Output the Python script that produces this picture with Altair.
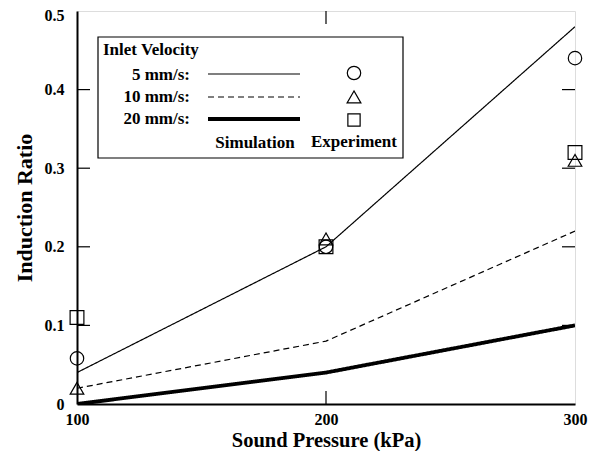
import altair as alt
import pandas as pd

# ---- data ----
pressure = [100, 200, 300]
sim_5 = [0.04, 0.20, 0.48]
sim_10 = [0.02, 0.08, 0.22]
sim_20 = [0.0, 0.04, 0.10]
exp_5 = [0.058, 0.20, 0.44]
exp_10 = [0.02, 0.21, 0.31]
exp_20 = [0.11, 0.20, 0.32]
y_ticks = [0.0, 0.1, 0.2, 0.3, 0.4, 0.5]
x_ticks = [100, 200, 300]

FONT = "Liberation Serif"
W, H = 498, 393

xs = alt.Scale(domain=[100, 300], nice=False)
ys = alt.Scale(domain=[0, 0.5], nice=False)

sim = pd.DataFrame({
    "p": pressure * 3,
    "r": sim_5 + sim_10 + sim_20,
    "v": ["5"] * 3 + ["10"] * 3 + ["20"] * 3,
})
exp = pd.DataFrame({
    "p": pressure * 3,
    "r": exp_5 + exp_10 + exp_20,
    "v": ["5"] * 3 + ["10"] * 3 + ["20"] * 3,
})

xax = alt.Axis(values=x_ticks, format="d", grid=False, tickSize=0, domainColor="black",
               domainWidth=2, labelFlush=False, labelPadding=20.5, labelBaseline="alphabetic",
               labelFont=FONT, labelFontSize=16, labelFontWeight="bold", labelColor="black",
               title="Sound Pressure (kPa)", titleFont=FONT, titleFontSize=20.5,
               titleFontWeight="bold", titleColor="black", titleBaseline="alphabetic",
               titleY=42.3)
yax = alt.Axis(values=y_ticks, grid=False, tickSize=0, domainColor="black", domainWidth=2,
               labelFlush=False, labelPadding=13, labelFont=FONT, labelFontSize=16,
               labelFontWeight="bold", labelColor="black", labelBaseline="middle",
               labelOffset={"condition": {"test": "datum.value >= 0.5", "value": 4}, "value": 0},
               labelExpr="datum.value == 0 ? '0' : format(datum.value, '.1f')",
               title="Induction Ratio", titleFont=FONT, titleFontSize=22,
               titleFontWeight="bold", titleColor="black", titleBaseline="alphabetic",
               titleX=-46, titleY=H / 2)

def sim_line(val, width, dash):
    return alt.Chart(sim[sim.v == val]).mark_line(color="black", strokeWidth=width, strokeDash=dash, clip=True).encode(
        x=alt.X("p:Q", scale=xs, axis=xax),
        y=alt.Y("r:Q", scale=ys, axis=yax),
    )

l5 = sim_line("5", 1.2, [1, 0])
l10 = sim_line("10", 1.2, [6, 4])
l20 = sim_line("20", 3.8, [1, 0])

shape_map = alt.Scale(domain=["5", "10", "20"], range=["circle", "triangle-up", "square"])
size_map = alt.Scale(domain=["5", "10", "20"], range=[180, 190, 150])
pts = alt.Chart(exp).mark_point(filled=False, color="black", strokeWidth=1.2, opacity=1).encode(
    x=alt.X("p:Q", scale=xs),
    y=alt.Y("r:Q", scale=ys),
    shape=alt.Shape("v:N", scale=shape_map, legend=None),
    size=alt.Size("v:N", scale=size_map, legend=None),
)

# inward ticks
tick_df_y = pd.DataFrame({"t": y_ticks[1:-1]})
tick_df_x = pd.DataFrame({"t": [200]})
ltick = alt.Chart(tick_df_y).mark_rule(color="black", strokeWidth=1.2).encode(
    y=alt.Y("t:Q", scale=ys), x=alt.value(0), x2=alt.value(13))
rtick = alt.Chart(tick_df_y).mark_rule(color="black", strokeWidth=1.2).encode(
    y=alt.Y("t:Q", scale=ys), x=alt.value(W), x2=alt.value(W - 13))
btick = alt.Chart(tick_df_x).mark_rule(color="black", strokeWidth=1.2).encode(
    x=alt.X("t:Q", scale=xs), y=alt.value(H), y2=alt.value(H - 13))
ttick = alt.Chart(tick_df_x).mark_rule(color="black", strokeWidth=1.2).encode(
    x=alt.X("t:Q", scale=xs), y=alt.value(0), y2=alt.value(13))

# legend box
one = pd.DataFrame({"k": [0]})
box = alt.Chart(one).mark_rect(fill="white", stroke="black", strokeWidth=1.2).encode(
    x=alt.value(21), x2=alt.value(326), y=alt.value(26), y2=alt.value(147))

def txt(s, x, y, align="left", size=17):
    return alt.Chart(one).mark_text(text=s, font=FONT, fontSize=size, fontWeight="bold",
                                    align=align, baseline="alphabetic", color="black").encode(
        x=alt.value(x), y=alt.value(y))

def seg(y, width, dash):
    return alt.Chart(one).mark_rule(color="black", strokeWidth=width, strokeDash=dash).encode(
        x=alt.value(131), x2=alt.value(223), y=alt.value(y))

def sym(shape, y, size):
    return alt.Chart(one).mark_point(shape=shape, filled=False, color="black", strokeWidth=1.2,
                                     size=size, opacity=1).encode(x=alt.value(277), y=alt.value(y))

legend = [
    box,
    txt("Inlet Velocity", 26, 44),
    txt("5 mm/s:", 113, 69, align="right"),
    txt("10 mm/s:", 113, 91, align="right"),
    txt("20 mm/s:", 113, 113, align="right"),
    seg(63, 1.2, [1, 0]), seg(86, 1.2, [6, 4]), seg(108, 3.8, [1, 0]),
    sym("circle", 62, 180), sym("triangle-up", 86, 190), sym("square", 109, 150),
    txt("Simulation", 178, 137, align="center"),
    txt("Experiment", 277, 136, align="center"),
]

chart = alt.layer(l5, l10, l20, pts, ltick, rtick, btick, ttick, *legend).properties(
    width=W, height=H,
    autosize=alt.AutoSizeParams(type="none"),
    padding={"left": 69, "top": 3, "right": 18, "bottom": 47},
).configure_view(stroke="black", strokeWidth=2).configure(background="white")

chart.save("out.html", embed_options={"renderer": "svg", "actions": False})
